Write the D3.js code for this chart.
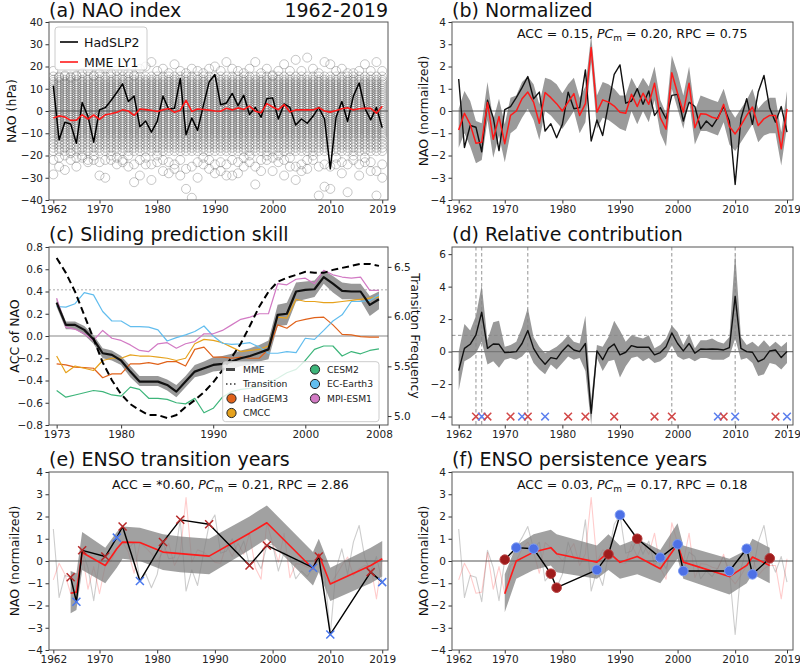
<!DOCTYPE html>
<html><head><meta charset="utf-8">
<script src="https://cdn.jsdelivr.net/npm/d3@7"></script>
<style>body{margin:0;background:#fff}svg text{font-family:"DejaVu Sans",sans-serif}</style>
</head><body><svg id="c" width="800" height="665"></svg>
<script>
// ---------------- DATA ----------------
const years = d3.range(1962, 2020);
const hadslp2 = [11.4,-13,-5.1,-5.8,-14.5,3.8,-2.4,-14,0.5,1.5,4.7,8.3,12.2,4.3,6.7,-7.1,-4.5,-9.5,-4.7,6.7,0.8,1.2,14.6,-10.7,-3.2,-8.7,2.4,13,16.4,2.8,3.6,7.9,2.4,7.1,-1.6,1.6,-2.8,5.5,5.9,-3.6,3.2,1.6,-6.3,-3.6,-5.5,-2.4,1.6,-3.6,-26,-2.8,4.3,-4.7,6.7,12.6,1.2,-4,1.6,-7.5];
const mmeLY1 = [-3.2,-2.2,-2.7,-4.2,-4.1,-1.7,-3.6,-1.8,-3.8,-1.7,-1.2,-0.6,0.5,0,-2,0.9,0.6,0.3,-0.2,0.5,1.1,-0.6,0.3,4.8,-0.2,0.9,0.7,0.4,0,-0.1,1.2,0.5,1.4,0.7,2.2,-0.1,-0.8,3.3,1.8,0.6,2.9,-0.4,0.5,0.5,0.5,0.5,1.5,0,-0.5,0.2,1,1.5,0.5,1,1.2,1.2,-1,2.1];
// ensemble member cloud (hPa): common dense core levels + per-year extremes
const ensCore = [-18,-16.5,-15,-13.5,-12,-11,-10,-9,-8,-7,-6,-5,-4,-3,-2,-1,0,1,2,3,4,5,6,7,8,9,10,11,12,13,14,15.5];
const ensMax = [18,15,16,15,16,17,18,16,17,19,17,18,18,17,16,19,20,22,18,19,17,21,18,17,19,18,17,19,20,18,22,19,18,17,19,22,17,19,16,18,21,18,23,18,24,19,17,22,21,18,19,17,17,18,21,18,22,18];
const ensMin = [-28.5,-25,-26.5,-22,-25,-21,-23,-22,-29,-30,-22,-24,-23,-25,-32,-29,-24,-31,-23,-27,-28,-26,-29,-35,-39,-30,-24,-26,-28,-27,-29,-29,-28,-25,-23,-33,-27,-22,-27,-23,-29,-25,-31,-27,-26,-22,-38,-34,-35,-24,-28,-36.5,-22,-29,-23,-27,-38,-30];
const ensMin2 = [-22,-21,-20,-19,-21,-20,-22,-20,-23,-22,-20,-21,-22,-20,-24,-22,-21,-24,-20,-22,-23,-24,-22,-26,-25,-23,-21,-22,-24,-23,-24,-22,-23,-21,-20,-25,-22,-20,-21,-20,-22,-21,-25,-24,-22,-20,-25,-24,-25,-21,-23,-24,-20,-24,-21,-23,-27,-24];

const obsNorm = [1.44,-1.64,-0.65,-0.73,-1.83,0.48,-0.3,-1.78,0.06,0.2,0.6,1.05,1.55,0.55,0.85,-0.9,-0.57,-1.2,-0.6,0.85,0.1,0.15,1.85,-1.35,-0.4,-1.1,0.3,1.65,2.07,0.35,0.45,1.0,0.3,0.9,-0.2,0.15,-0.35,0.7,0.75,-0.45,0.4,0.2,-0.8,-0.45,-0.7,-0.3,0.2,-0.45,-3.3,-0.35,0.55,-0.6,0.85,1.6,0.12,-0.5,0.2,-0.95];
const mmeNorm = [-0.85,-0.1,-0.6,-1.45,-1.4,0.38,-1.27,-0.25,-1.47,-0.2,0,0.55,0.85,0.4,-0.55,0.83,0.6,0.33,0,0.4,0.78,-0.2,0.33,2.85,-0.05,0.5,0.4,0.22,-0.06,-0.1,0.75,0.2,0.8,0.3,1.25,-0.3,-0.82,1.72,0.8,-0.05,1.25,-0.75,-0.12,-0.15,-0.28,-0.35,0.3,-0.7,-1.03,-0.65,-0.2,0.18,-0.65,-0.35,-0.2,-0.2,-1.7,0.1];
const mmeNormLo = [-1.65,-1.0,-1.6,-2.35,-2.2,-0.4,-2.1,-1.1,-2.3,-1.0,-0.8,-0.3,0.1,-0.4,-1.3,0.0,-0.2,-0.5,-0.8,-0.4,0.0,-1.0,-0.5,2.2,-0.8,-0.3,-0.4,-0.6,-0.8,-0.9,0.0,-0.6,0.0,-0.5,0.5,-1.0,-1.6,1.0,0.1,-0.8,0.5,-1.5,-0.9,-0.9,-1.0,-1.1,-0.5,-1.5,-1.8,-1.4,-1.0,-0.6,-1.4,-1.1,-1.0,-1.0,-2.45,-0.7];
const mmeNormHi = [0.1,0.9,0.45,-0.45,-0.55,1.3,-0.4,0.55,-0.6,0.6,0.7,1.3,1.55,1.2,0.3,1.5,1.4,1.2,0.8,1.2,1.5,0.6,1.1,3.4,0.7,1.3,1.2,1.0,0.7,0.7,1.5,1.0,1.5,1.1,2.0,0.5,-0.1,2.5,1.7,0.7,2.0,0.0,0.7,0.6,0.5,0.4,1.0,0.1,-0.3,0.1,0.5,1.0,0.1,0.4,0.6,0.6,-0.95,0.9];

const relContrib = [-1.17,0.2,0.45,1.03,2.42,0.2,0.47,0.45,-0.06,-0.04,0,0.5,1.3,0.2,-0.37,-0.78,-0.37,-0.45,0.04,0.4,0.1,0,0.5,-3.8,0.04,-0.5,0.2,0.47,-0.2,-0.04,0.37,0.27,0.27,0.27,-0.2,-0.06,0.3,1.15,0.5,0.04,0.5,-0.1,0.16,0.14,0.16,0.14,0.1,0.25,3.4,0.2,0,-0.04,-0.62,-0.45,0.04,0.1,-0.37,0];
const relLo = [-2.4,-0.6,-0.4,-0.1,0.6,-0.8,-0.6,-1.0,-0.5,-0.4,-0.5,-0.3,0.1,-0.7,-1.1,-1.4,-0.8,-1.1,-0.7,-0.3,-0.5,-0.4,-1.2,-4.5,-0.4,-1.2,-0.6,-0.5,-1.6,-0.9,-0.4,-0.3,-0.6,-0.4,-0.7,-0.6,-0.3,0.4,-0.3,-0.5,-0.4,-0.6,-0.4,-0.4,-0.5,-0.5,-0.5,-0.3,0.8,-0.5,-0.4,-0.7,-1.5,-1.4,-0.7,-0.8,-1.1,-0.7];
const relHi = [0.0,1.7,1.3,2.2,4.1,0.7,1.8,1.9,0.3,0.4,0.6,1.5,2.7,0.9,0.3,-0.1,0.1,0.3,0.6,1.0,0.6,0.5,2.2,-3.0,0.4,0.3,0.9,1.9,1.3,0.6,1.0,0.9,0.8,1.0,0.2,0.4,0.8,1.6,1.2,0.4,1.1,0.2,0.7,0.7,0.8,0.6,0.5,0.9,6.1,0.9,0.4,0.6,0.3,0.7,0.3,0.6,0.3,0.6];
const highlightYears = [1965, 1966, 1974, 1999, 2010];

const skillYears = d3.range(1973, 2009);
const accMME = [0.30,0.10,0.10,0.055,-0.03,-0.155,-0.17,-0.22,-0.32,-0.41,-0.41,-0.41,-0.44,-0.50,-0.41,-0.32,-0.29,-0.26,-0.25,-0.23,-0.20,-0.18,-0.15,-0.12,0.19,0.20,0.40,0.415,0.42,0.53,0.47,0.405,0.40,0.40,0.28,0.33];
const accLo = [0.26,0.06,0.06,0.01,-0.07,-0.20,-0.22,-0.26,-0.37,-0.45,-0.45,-0.45,-0.49,-0.55,-0.46,-0.37,-0.35,-0.32,-0.31,-0.30,-0.27,-0.26,-0.23,-0.21,0.09,0.10,0.31,0.33,0.35,0.47,0.39,0.33,0.33,0.32,0.18,0.24];
const accHi = [0.34,0.13,0.13,0.09,0.01,-0.11,-0.13,-0.18,-0.27,-0.36,-0.36,-0.36,-0.39,-0.44,-0.36,-0.26,-0.23,-0.19,-0.18,-0.16,-0.13,-0.11,-0.08,-0.04,0.28,0.30,0.48,0.49,0.50,0.59,0.54,0.48,0.47,0.47,0.36,0.40];
const accHadGEM3 = [-0.25,-0.26,-0.28,-0.285,-0.29,-0.375,-0.34,-0.34,-0.25,-0.25,-0.24,-0.255,-0.23,-0.23,-0.27,-0.12,-0.10,-0.19,-0.19,-0.20,-0.19,-0.20,-0.20,-0.12,0.10,0.07,0.13,0.15,0.165,0.17,0.10,0.015,0.01,-0.005,-0.01,-0.01];
const accCMCC = [-0.18,-0.33,-0.27,-0.29,-0.31,-0.22,-0.20,-0.20,-0.17,-0.18,-0.18,-0.19,-0.20,-0.22,-0.20,-0.07,-0.03,-0.04,-0.06,-0.10,-0.14,-0.13,-0.12,-0.09,0.17,0.16,0.33,0.31,0.31,0.30,0.30,0.31,0.32,0.33,0.34,0.35];
const accCESM2 = [-0.49,-0.55,-0.53,-0.51,-0.49,-0.50,-0.53,-0.54,-0.46,-0.48,-0.56,-0.56,-0.57,-0.60,-0.61,-0.56,-0.69,-0.65,-0.55,-0.50,-0.48,-0.47,-0.45,-0.42,-0.38,-0.33,-0.30,-0.22,-0.12,-0.09,-0.09,-0.18,-0.14,-0.16,-0.13,-0.115];
const accECEarth3 = [0.265,0.26,0.29,0.39,0.37,0.22,0.135,0.135,0.085,0.085,0.08,0.055,-0.045,-0.015,0.01,0.04,0.09,0.0,-0.065,-0.075,-0.07,-0.06,-0.10,-0.155,-0.155,-0.14,-0.15,-0.02,-0.03,0.05,0.135,0.19,0.31,0.31,0.32,0.37];
const accMPIESM1 = [0.34,0.08,0.06,0.02,-0.04,0.05,-0.02,-0.04,-0.08,-0.13,-0.14,-0.07,-0.06,-0.11,-0.07,-0.05,0.02,0.02,0.05,0.10,0.15,0.17,0.20,0.20,0.47,0.46,0.51,0.52,0.47,0.59,0.55,0.53,0.52,0.53,0.41,0.41];
const transFreq = [6.59,6.44,6.25,6.015,5.78,5.54,5.36,5.22,5.12,5.06,5.01,5.01,4.98,5.01,5.09,5.16,5.24,5.34,5.46,5.59,5.73,5.91,6.10,6.25,6.35,6.39,6.42,6.45,6.44,6.44,6.47,6.49,6.51,6.53,6.53,6.51];
const accThreshold = 0.415;

const transitionYears = [1965,1966,1967,1971,1973,1974,1977,1981,1984,1989,1996,1999,2007,2008,2010,2017,2019];
const transitionType  = ['r','b','r','r','b','r','b','r','r','r','r','r','b','r','b','r','b'];
const persistYears = [1970,1972,1975,1978,1979,1986,1988,1990,1993,1997,2000,2001,2009,2012,2013,2016];
const persistType  = ['r','b','b','r','r','b','r','b','r','b','b','b','b','b','b','r'];
const persistMME = [-1.47,0,0.4,0.6,0.33,-0.05,0.4,-0.06,0.2,-0.35,0.75,-0.05,-0.7,-0.2,0.18,-0.2];

const modelNames = ['HadGEM3','CMCC','CESM2','EC-Earth3','MPI-ESM1'];
const modelColors = ['#e0621a','#e6a21d','#3db57a','#62bdee','#d27ac4'];

const yrTicks = [1962,1970,1980,1990,2000,2010,2019];

// ---------------- DRAWING ----------------
const svg = d3.select('#c');
const FONT = '"DejaVu Sans", sans-serif';
let clipN = 0;

function makePanel(o){
  const x = d3.scaleLinear().domain(o.xdom).range([o.l, o.r]);
  const y = d3.scaleLinear().domain(o.ydom).range([o.b, o.t]);
  const g = svg.append('g');
  const id = 'clp' + (clipN++);
  svg.append('clipPath').attr('id', id).append('rect')
    .attr('x', o.l).attr('y', o.t).attr('width', o.r - o.l).attr('height', o.b - o.t);
  const plot = g.append('g').attr('clip-path', `url(#${id})`);
  return {x, y, g, plot, o};
}
function styleAxis(sel){
  sel.attr('font-family', FONT).attr('font-size', 10.5);
  sel.select('.domain').remove();
  sel.selectAll('line').attr('stroke', '#333');
  sel.selectAll('text').attr('fill', '#222');
}
function finishPanel(p, xt, yt, yfmt){
  const o = p.o;
  p.g.append('g').attr('transform', `translate(0,${o.b})`)
    .call(d3.axisBottom(p.x).tickValues(xt).tickFormat(d3.format('d')).tickSize(3.5).tickPadding(2.5)).call(styleAxis);
  p.g.append('g').attr('transform', `translate(${o.l},0)`)
    .call(d3.axisLeft(p.y).tickValues(yt).tickFormat(yfmt).tickSize(3.5).tickPadding(2.5)).call(styleAxis);
  p.g.append('rect').attr('x', o.l).attr('y', o.t).attr('width', o.r - o.l).attr('height', o.b - o.t)
    .attr('fill', 'none').attr('stroke', '#555').attr('stroke-width', 1);
}
function title(x, y, t, anchor){
  svg.append('text').attr('x', x).attr('y', y).attr('font-size', 19).attr('fill', '#111')
    .attr('text-anchor', anchor || 'start').text(t);
}
function ylabel(cx, cy, t, rot){
  rot = rot || -90;
  const bx = rot === -90 ? cx + 3.8 : cx - 3.8;
  svg.append('text').attr('transform', `translate(${bx},${cy}) rotate(${rot})`)
    .attr('text-anchor', 'middle').attr('font-size', 12.5).attr('fill', '#111').text(t);
}
function stats(x, y, acc, pcm, rpc){
  const t = svg.append('text').attr('x', x).attr('y', y).attr('font-size', 12.5).attr('fill', '#111');
  t.append('tspan').text(`ACC = ${acc}, `);
  t.append('tspan').attr('font-style', 'italic').text('PC');
  t.append('tspan').attr('font-size', 9).attr('dy', 2.5).text('m');
  t.append('tspan').attr('dy', -2.5).text(` = ${pcm}, RPC = ${rpc}`);
}
function hline(p, v, color, w, dash){
  p.plot.append('line').attr('x1', p.o.l).attr('x2', p.o.r).attr('y1', p.y(v)).attr('y2', p.y(v))
    .attr('stroke', color).attr('stroke-width', w).attr('stroke-dasharray', dash || null);
}
function band(p, xs, lo, hi, fill){
  const a = d3.area().x((d, i) => p.x(xs[i])).y0((d, i) => p.y(lo[i])).y1((d, i) => p.y(hi[i]));
  p.plot.append('path').attr('d', a(xs)).attr('fill', fill).attr('stroke', 'none');
}
function line(p, xs, ys, color, w){
  const l = d3.line().x((d, i) => p.x(xs[i])).y((d, i) => p.y(ys[i]));
  return p.plot.append('path').attr('d', l(xs)).attr('fill', 'none').attr('stroke', color)
    .attr('stroke-width', w).attr('stroke-linejoin', 'round');
}
const idx = y => years.indexOf(y);
const crossPath = s => `M${-s},${-s}L${s},${s}M${-s},${s}L${s},${-s}`;

// ===== (a) NAO index =====
{
  const p = makePanel({l:49, r:388, t:22, b:200, xdom:[1961.25, 2020], ydom:[-40, 40]});
  const pts = [];
  years.forEach((yr, i) => {
    ensCore.forEach(v => pts.push([yr, v]));
    pts.push([yr, ensMax[i]]); pts.push([yr, ensMin[i]]); pts.push([yr, ensMin2[i]]);
  });
  p.plot.append('g').selectAll('circle').data(pts).join('circle')
    .attr('cx', d => p.x(d[0])).attr('cy', d => p.y(d[1])).attr('r', 4.5)
    .attr('fill', 'none').attr('stroke', '#444').attr('stroke-opacity', 0.3).attr('stroke-width', 1);
  hline(p, 0, '#555', 1);
  line(p, years, hadslp2, '#000', 1.5);
  line(p, years, mmeLY1, '#ff1a1a', 1.6);
  finishPanel(p, yrTicks, d3.range(-40, 41, 10), d3.format('d'));
  const lg = p.g.append('g');
  lg.append('rect').attr('x', 55).attr('y', 27).attr('width', 92).attr('height', 43).attr('rx', 3)
    .attr('fill', '#fff').attr('fill-opacity', 0.8).attr('stroke', '#ccc');
  [['HadSLP2', '#000', 42], ['MME LY1', '#ff1a1a', 62]].forEach(([t, c, yy]) => {
    lg.append('line').attr('x1', 60).attr('x2', 78).attr('y1', yy).attr('y2', yy).attr('stroke', c).attr('stroke-width', 1.6);
    lg.append('text').attr('x', 84).attr('y', yy + 4.5).attr('font-size', 12.5).attr('fill', '#111').text(t);
  });
  title(49, 17, '(a) NAO index');
  title(388, 17, '1962-2019', 'end');
  ylabel(12, 111, 'NAO (hPa)');
}

// ===== (b) Normalized =====
{
  const p = makePanel({l:452, r:793, t:22, b:200, xdom:[1960.84, 2020.04], ydom:[-4, 4]});
  band(p, years, mmeNormLo, mmeNormHi, '#9a9a9a');
  hline(p, 0, '#555', 1);
  line(p, years, obsNorm, '#111', 1.4);
  line(p, years, mmeNorm, '#ff1a1a', 1.5);
  finishPanel(p, yrTicks, d3.range(-4, 5, 1), d3.format('d'));
  title(452, 17, '(b) Normalized');
  stats(517, 38, '0.15', '0.20', '0.75');
  ylabel(424, 111, 'NAO (normailzed)');
}

// ===== (c) Sliding prediction skill =====
{
  const p = makePanel({l:49, r:388, t:247, b:425, xdom:[1972.17, 2008.98], ydom:[-0.8, 0.8]});
  const yR = d3.scaleLinear().domain([4.91, 6.70]).range([425, 247]);
  hline(p, 0, '#888', 1.2);
  hline(p, accThreshold, '#aaa', 1, '2,2');
  band(p, skillYears, accLo, accHi, '#999');
  const series = [accHadGEM3, accCMCC, accCESM2, accECEarth3, accMPIESM1];
  series.forEach((s, k) => line(p, skillYears, s, modelColors[k], 1.2));
  line(p, skillYears, accMME, '#111', 2.2);
  const dl = d3.line().x((d, i) => p.x(skillYears[i])).y((d, i) => yR(transFreq[i]));
  p.plot.append('path').attr('d', dl(skillYears)).attr('fill', 'none').attr('stroke', '#000')
    .attr('stroke-width', 2).attr('stroke-dasharray', '7,4');
  finishPanel(p, [1973, 1980, 1990, 2000, 2008], d3.range(-8, 9, 2).map(v => v / 10), d3.format('.1f'));
  p.g.append('g').attr('transform', 'translate(388,0)')
    .call(d3.axisRight(yR).tickValues([5.0, 5.5, 6.0, 6.5]).tickFormat(d3.format('.1f')).tickSize(3.5).tickPadding(2.5)).call(styleAxis);
  const lg = p.g.append('g');
  lg.append('rect').attr('x', 222.7).attr('y', 361.7).attr('width', 156.3).attr('height', 60).attr('rx', 3)
    .attr('fill', '#fff').attr('fill-opacity', 0.8).attr('stroke', '#ccc');
  const rows = [369.5, 384, 398.5, 413];
  lg.append('line').attr('x1', 226).attr('x2', 235).attr('y1', rows[0]).attr('y2', rows[0]).attr('stroke', '#444').attr('stroke-width', 3);
  lg.append('line').attr('x1', 226).attr('x2', 236).attr('y1', rows[1]).attr('y2', rows[1]).attr('stroke', '#333').attr('stroke-width', 1.3).attr('stroke-dasharray', '1.5,2.5');
  const entries = [
    {t:'MME', x:243, y:rows[0]}, {t:'Transition', x:243, y:rows[1]},
    {t:modelNames[0], x:243, y:rows[2], c:modelColors[0], mx:231.5},
    {t:modelNames[1], x:243, y:rows[3], c:modelColors[1], mx:231.5},
    {t:modelNames[2], x:327, y:rows[0], c:modelColors[2], mx:315},
    {t:modelNames[3], x:327, y:rows[1], c:modelColors[3], mx:315},
    {t:modelNames[4], x:327, y:rows[2], c:modelColors[4], mx:315}
  ];
  entries.forEach(e => {
    if (e.c) lg.append('circle').attr('cx', e.mx).attr('cy', e.y).attr('r', 4.6).attr('fill', e.c).attr('stroke', '#222').attr('stroke-width', 1);
    lg.append('text').attr('x', e.x).attr('y', e.y + 3.3).attr('font-size', 9.2).attr('fill', '#222').text(e.t);
  });
  title(49, 241, '(c) Sliding prediction skill');
  ylabel(15, 336, 'ACC of NAO');
  ylabel(415, 336, 'Transiton Frequency', 90);
}

// ===== (d) Relative contribution =====
{
  const p = makePanel({l:452, r:793, t:247, b:425, xdom:[1960.84, 2020.04], ydom:[-4.52, 6.44]});
  band(p, years, relLo, relHi, '#999');
  highlightYears.forEach(yr => {
    p.plot.append('line').attr('x1', p.x(yr)).attr('x2', p.x(yr)).attr('y1', 247).attr('y2', 425)
      .attr('stroke', '#888').attr('stroke-width', 0.9).attr('stroke-dasharray', '3.5,2.5');
  });
  hline(p, 0, '#777', 1.3);
  hline(p, 1, '#888', 0.9, '3.5,2.5');
  line(p, years, relContrib, '#111', 1.4);
  transitionYears.forEach((yr, i) => {
    p.plot.append('path').attr('d', crossPath(3.8)).attr('transform', `translate(${p.x(yr)},${p.y(-4)})`)
      .attr('stroke', transitionType[i] === 'r' ? '#d24848' : '#5d80ee').attr('stroke-width', 1.5).attr('fill', 'none');
  });
  finishPanel(p, yrTicks, [-4, -2, 0, 2, 4, 6], d3.format('d'));
  title(452, 241, '(d) Relative contribution');
}

// ===== (e) ENSO transition years =====
{
  const p = makePanel({l:49, r:388, t:472, b:650, xdom:[1961.25, 2020], ydom:[-4, 4]});
  line(p, years, obsNorm, '#000', 1.1).attr('stroke-opacity', 0.2);
  line(p, years, mmeNorm, '#ff0000', 1.1).attr('stroke-opacity', 0.2);
  const ii = transitionYears.map(idx);
  band(p, transitionYears, ii.map(i => mmeNormLo[i]), ii.map(i => mmeNormHi[i]), 'rgba(130,130,130,0.75)');
  hline(p, 0, '#555', 1);
  line(p, transitionYears, ii.map(i => mmeNorm[i]), '#ff1a1a', 1.6);
  line(p, transitionYears, ii.map(i => obsNorm[i]), '#000', 1.4);
  transitionYears.forEach((yr, k) => {
    p.plot.append('path').attr('d', crossPath(4)).attr('transform', `translate(${p.x(yr)},${p.y(obsNorm[ii[k]])})`)
      .attr('stroke', transitionType[k] === 'r' ? '#b52828' : '#4a78ee').attr('stroke-width', 1.5).attr('fill', 'none');
  });
  finishPanel(p, yrTicks, d3.range(-4, 5, 1), d3.format('d'));
  title(49, 466, '(e) ENSO transition years');
  stats(112, 489, '*0.60', '0.21', '2.86');
  ylabel(15, 561, 'NAO (normailzed)');
}

// ===== (f) ENSO persistence years =====
{
  const p = makePanel({l:452, r:793, t:472, b:650, xdom:[1960.84, 2020.04], ydom:[-4, 4]});
  line(p, years, obsNorm, '#000', 1.1).attr('stroke-opacity', 0.2);
  line(p, years, mmeNorm, '#ff0000', 1.1).attr('stroke-opacity', 0.2);
  const ii = persistYears.map(idx);
  band(p, persistYears, ii.map(i => mmeNormLo[i]), ii.map(i => mmeNormHi[i]), 'rgba(130,130,130,0.75)');
  hline(p, 0, '#555', 1);
  line(p, persistYears, persistMME, '#ff1a1a', 1.6);
  line(p, persistYears, ii.map(i => obsNorm[i]), '#000', 1.4);
  persistYears.forEach((yr, k) => {
    const red = persistType[k] === 'r';
    p.plot.append('circle').attr('cx', p.x(yr)).attr('cy', p.y(obsNorm[ii[k]])).attr('r', 4.8)
      .attr('fill', red ? '#9e1c1c' : '#4d70e6').attr('stroke', red ? '#b84040' : '#7d9bf2').attr('stroke-width', 1);
  });
  finishPanel(p, yrTicks, d3.range(-4, 5, 1), d3.format('d'));
  title(452, 466, '(f) ENSO persistence years');
  stats(517, 489, '0.03', '0.17', '0.18');
  ylabel(424, 561, 'NAO (normalized)');
}
</script></body></html>
